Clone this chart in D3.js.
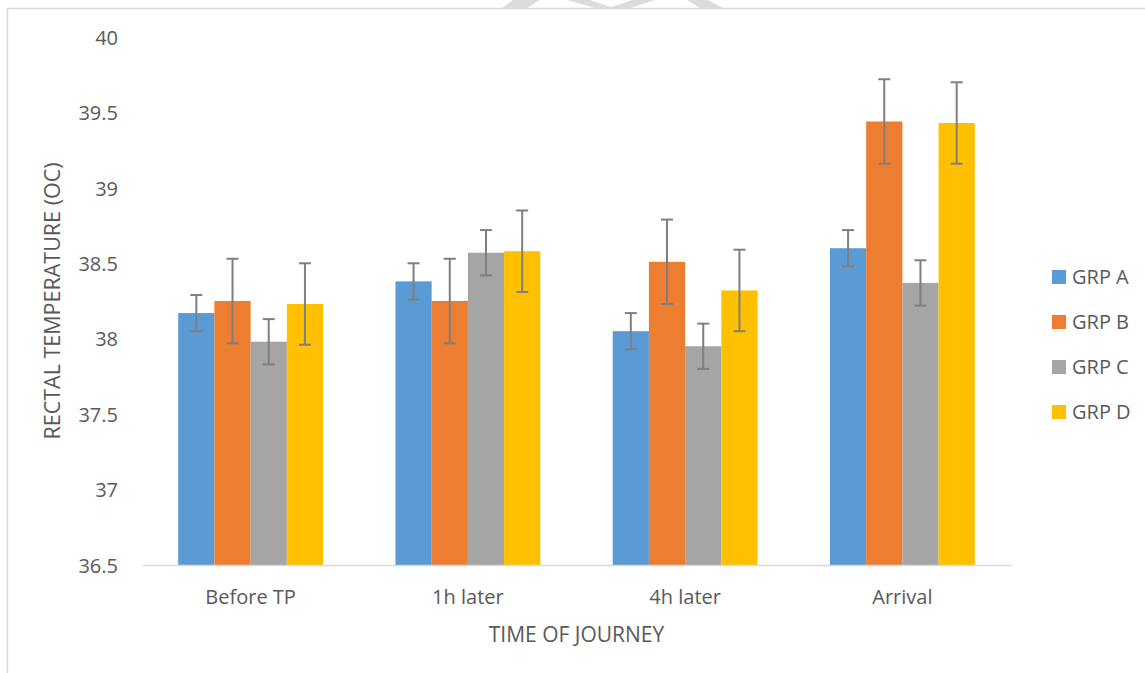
<!DOCTYPE html>
<html>
<head>
<meta charset="utf-8">
<script src="https://cdn.jsdelivr.net/npm/d3@7"></script>
<style>
  html, body { margin: 0; padding: 0; background: #fff; }
  svg { display: block; }
  text { font-family: "Open Sans", "Liberation Sans", sans-serif; fill: #595959; }
</style>
</head>
<body>
<svg id="chart" width="1145" height="673"></svg>
<script>
const categories = ["Before TP", "1h later", "4h later", "Arrival"];
const groups = ["GRP A", "GRP B", "GRP C", "GRP D"];
const grpA = [38.17, 38.38, 38.05, 38.60];
const grpB = [38.25, 38.25, 38.51, 39.44];
const grpC = [37.98, 38.57, 37.95, 38.37];
const grpD = [38.23, 38.58, 38.32, 39.43];
const errA = [0.12, 0.12, 0.12, 0.12];
const errB = [0.28, 0.28, 0.28, 0.28];
const errC = [0.15, 0.15, 0.15, 0.15];
const errD = [0.27, 0.27, 0.27, 0.27];
const yTicks = [36.5, 37, 37.5, 38, 38.5, 39, 39.5, 40];
const colors = ["#5B9BD5", "#ED7D31", "#A5A5A5", "#FFC000"];
const yTitle = "RECTAL TEMPERATURE (OC)";
const xTitle = "TIME OF JOURNEY";

const seriesVals = [grpA, grpB, grpC, grpD];
const seriesErr = [errA, errB, errC, errD];

const svg = d3.select("#chart");

// outer chart-area border
svg.append("rect")
  .attr("x", 7.5).attr("y", 8.5).attr("width", 1160).attr("height", 700)
  .attr("fill", "none").attr("stroke", "#d9d9d9").attr("stroke-width", 1.5);

// faint watermark fragments at the top edge
svg.append("g").attr("fill", "#dcdcdc")
  .selectAll("path")
  .data([
    "M513,0 L540,0 L527,8 L502,8 Z",
    "M567,0 L590,0 L611,7 L633,0 L655,0 L630,8 L595,8 Z",
    "M687,0 L708,0 L723,8 L700,8 Z"
  ])
  .join("path").attr("d", d => d);

const plot = { left: 142, right: 1011, top: 37, bottom: 565 };

const x0 = d3.scaleBand().domain(categories).range([plot.left, plot.right]).paddingInner(0).paddingOuter(0);
const bw = x0.bandwidth();
const x1 = d3.scaleBand().domain(groups).range([bw / 6, bw * 5 / 6]).padding(0);
const y = d3.scaleLinear().domain([36.5, 40]).range([plot.bottom, plot.top]);

// y axis labels
const yAxis = d3.axisLeft(y).tickValues(yTicks).tickSize(0).tickPadding(0).tickFormat(d3.format(""));
const gy = svg.append("g").attr("transform", `translate(118,0)`).call(yAxis);
gy.select(".domain").remove();
gy.selectAll("text").attr("font-size", 20).attr("fill", "#595959")
  .style("font-family", '"Open Sans", sans-serif').attr("dy", "0.36em");

// bars
const data = [];
categories.forEach((c, i) => {
  groups.forEach((g, j) => {
    data.push({ cat: c, grp: g, v: seriesVals[j][i], e: seriesErr[j][i], color: colors[j] });
  });
});

svg.append("g").selectAll("rect")
  .data(data).join("rect")
  .attr("x", d => x0(d.cat) + x1(d.grp))
  .attr("width", x1.bandwidth())
  .attr("y", d => y(d.v))
  .attr("height", d => y(36.5) - y(d.v))
  .attr("fill", d => d.color);

// x axis line
const xAxis = d3.axisBottom(x0).tickSize(0).tickPadding(0);
const gx = svg.append("g").attr("transform", `translate(0,${plot.bottom})`).call(xAxis);
gx.select(".domain").attr("stroke", "#d9d9d9").attr("stroke-width", 1.5);
gx.selectAll("text").attr("font-size", 20).attr("fill", "#595959")
  .style("font-family", '"Open Sans", sans-serif').attr("dy", "1.95em");

// error bars
const eg = svg.append("g").attr("stroke", "#7f7f7f").attr("stroke-width", 2).attr("fill", "none");
const cap = 6;
data.forEach(d => {
  const cx = x0(d.cat) + x1(d.grp) + x1.bandwidth() / 2;
  const yt = y(d.v + d.e), yb = y(d.v - d.e);
  eg.append("line").attr("x1", cx).attr("x2", cx).attr("y1", yt).attr("y2", yb);
  eg.append("line").attr("x1", cx - cap).attr("x2", cx + cap).attr("y1", yt).attr("y2", yt);
  eg.append("line").attr("x1", cx - cap).attr("x2", cx + cap).attr("y1", yb).attr("y2", yb);
});

// axis titles
svg.append("text")
  .attr("transform", `translate(60,${(plot.top + plot.bottom) / 2}) rotate(-90)`)
  .attr("text-anchor", "middle")
  .attr("font-size", 21.5)
  .text(yTitle);

svg.append("text")
  .attr("x", (plot.left + plot.right) / 2).attr("y", 642)
  .attr("text-anchor", "middle")
  .attr("font-size", 21)
  .text(xTitle);

// legend
const leg = svg.append("g").attr("transform", "translate(1052,277)");
groups.forEach((g, i) => {
  const row = leg.append("g").attr("transform", `translate(0,${i * 45})`);
  row.append("rect").attr("x", 0).attr("y", -7).attr("width", 14).attr("height", 14).attr("fill", colors[i]);
  row.append("text").attr("x", 20).attr("y", 0).attr("dy", "0.36em").attr("font-size", 20).text(g);
});
</script>
</body>
</html>
